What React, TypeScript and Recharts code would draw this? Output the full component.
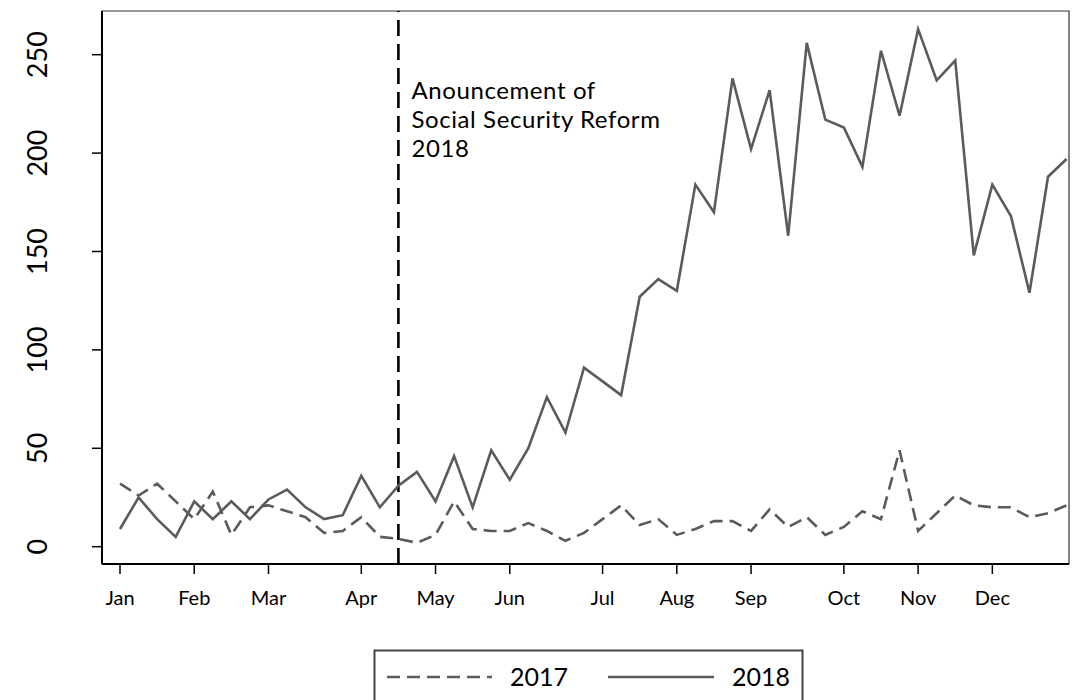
import React from 'react';
import { LineChart, Line, XAxis, YAxis, ReferenceLine, ReferenceArea } from 'recharts';

// Week index within the year (0 = first week of January)
const weeks = [
  0, 1, 2, 3, 4, 5, 6, 7, 8, 9, 10, 11, 12, 13, 14, 15, 16, 17, 18, 19, 20, 21, 22, 23, 24, 25,
  26, 27, 28, 29, 30, 31, 32, 33, 34, 35, 36, 37, 38, 39, 40, 41, 42, 43, 44, 45, 46, 47, 48, 49, 50, 51,
];

const counts2017 = [
  32, 26, 32, 23, 14, 28, 6, 20, 21, 18, 15, 7, 8, 15, 5, 4, 2, 6, 23, 9, 8, 8, 12, 8, 3, 7,
  14, 21, 11, 14, 6, 9, 13, 13, 8, 19, 10, 15, 6, 10, 18, 14, 49, 8, 17, 26, 21, 20, 20, 15, 17, 21,
];

const counts2018 = [
  9, 25, 14, 5, 23, 14, 23, 14, 24, 29, 20, 14, 16, 36, 20, 31, 38, 23, 46, 20, 49, 34, 50, 76, 58, 91,
  84, 77, 127, 136, 130, 184, 170, 238, 202, 232, 158, 256, 217, 213, 193, 252, 219, 263, 237, 247, 148, 184, 168, 129, 188, 197,
];

const monthTickWeeks = [0, 4, 8, 13, 17, 21, 26, 30, 34, 39, 43, 47];
const monthLabels = ['Jan', 'Feb', 'Mar', 'Apr', 'May', 'Jun', 'Jul', 'Aug', 'Sep', 'Oct', 'Nov', 'Dec'];
const yTicks = [0, 50, 100, 150, 200, 250];

const announcementWeek = 15;
const announcementLines = ['Anouncement of', 'Social Security Reform', '2018'];
const seriesNames = ['2017', '2018'];

const xDomain: [number, number] = [-0.97, 51.13];
const yDomain: [number, number] = [-8.8, 272.2];

const data = weeks.map((w, i) => ({ week: w, y2017: counts2017[i], y2018: counts2018[i] }));

const FONT = 'Lato, "Open Sans", sans-serif';
const SERIES_COLOR = '#5b5b5b';

function XTick(props: any) {
  const { x, y, payload } = props;
  const idx = monthTickWeeks.indexOf(payload.value);
  return (
    <text x={x} y={y} dy={29} textAnchor="middle" fontFamily={FONT} fontSize={20} fill="#000">
      {monthLabels[idx]}
    </text>
  );
}

function YTick(props: any) {
  const { x, y, payload } = props;
  const bx = x - 43;
  return (
    <text
      x={bx}
      y={y}
      transform={`rotate(-90 ${bx} ${y})`}
      textAnchor="middle"
      fontFamily={FONT}
      fontSize={27}
      fill="#000"
    >
      {payload.value}
    </text>
  );
}

function AnnotationLabel(props: any) {
  const vb = props.viewBox || { x: 0, y: 0 };
  const x = vb.x + 13;
  const top = vb.y;
  return (
    <g>
      {announcementLines.map((l, i) => (
        <text
          key={i}
          x={x}
          y={top + 88 + i * 29}
          fontFamily={FONT}
          fontSize={24}
          letterSpacing={0.6}
          fill="#000"
        >
          {l}
        </text>
      ))}
    </g>
  );
}

export default function App() {
  return (
    <div
      style={{
        position: 'absolute',
        left: 0,
        top: 0,
        width: 1076,
        height: 700,
        overflow: 'hidden',
        background: '#fff',
        fontFamily: FONT,
      }}
    >
      <LineChart width={1076} height={700} data={data} margin={{ top: 11, right: 7, bottom: 0, left: 0 }}>
        <ReferenceArea
          x1={xDomain[0]}
          x2={xDomain[1]}
          y1={yDomain[0]}
          y2={yDomain[1]}
          fill="none"
          stroke="#333"
          strokeWidth={1.2}
          ifOverflow="visible"
        />
        <XAxis
          dataKey="week"
          type="number"
          domain={xDomain}
          ticks={monthTickWeeks}
          interval={0}
          allowDataOverflow
          height={136}
          tickSize={10}
          tickMargin={2}
          axisLine={{ stroke: '#000', strokeWidth: 2 }}
          tickLine={{ stroke: '#000', strokeWidth: 1.5 }}
          tick={<XTick />}
        />
        <YAxis
          type="number"
          domain={yDomain}
          ticks={yTicks}
          interval={0}
          allowDataOverflow
          width={102}
          tickSize={10}
          tickMargin={2}
          axisLine={{ stroke: '#000', strokeWidth: 2 }}
          tickLine={{ stroke: '#000', strokeWidth: 1.5 }}
          tick={<YTick />}
        />
        <ReferenceLine
          x={announcementWeek}
          stroke="#000"
          strokeWidth={2.6}
          strokeDasharray="16 8"
          label={<AnnotationLabel />}
        />
        <Line
          type="linear"
          dataKey="y2017"
          name={seriesNames[0]}
          stroke={SERIES_COLOR}
          strokeWidth={2.6}
          strokeDasharray="13 7"
          dot={false}
          activeDot={false}
          isAnimationActive={false}
        />
        <Line
          type="linear"
          dataKey="y2018"
          name={seriesNames[1]}
          stroke={SERIES_COLOR}
          strokeWidth={2.6}
          dot={false}
          activeDot={false}
          isAnimationActive={false}
        />
      </LineChart>
      <svg
        width={1076}
        height={700}
        style={{ position: 'absolute', left: 0, top: 0, pointerEvents: 'none' }}
      >
        <rect x={374.5} y={650.5} width={428} height={80} fill="#fff" stroke="#444" strokeWidth={2} />
        <line x1={387} x2={492} y1={677} y2={677} stroke={SERIES_COLOR} strokeWidth={2.6} strokeDasharray="13 7" />
        <text x={510} y={677} dy="0.36em" fontFamily={FONT} fontSize={25} fill="#000">
          {seriesNames[0]}
        </text>
        <line x1={608} x2={714} y1={677} y2={677} stroke={SERIES_COLOR} strokeWidth={2.6} />
        <text x={732} y={677} dy="0.36em" fontFamily={FONT} fontSize={25} fill="#000">
          {seriesNames[1]}
        </text>
      </svg>
    </div>
  );
}
